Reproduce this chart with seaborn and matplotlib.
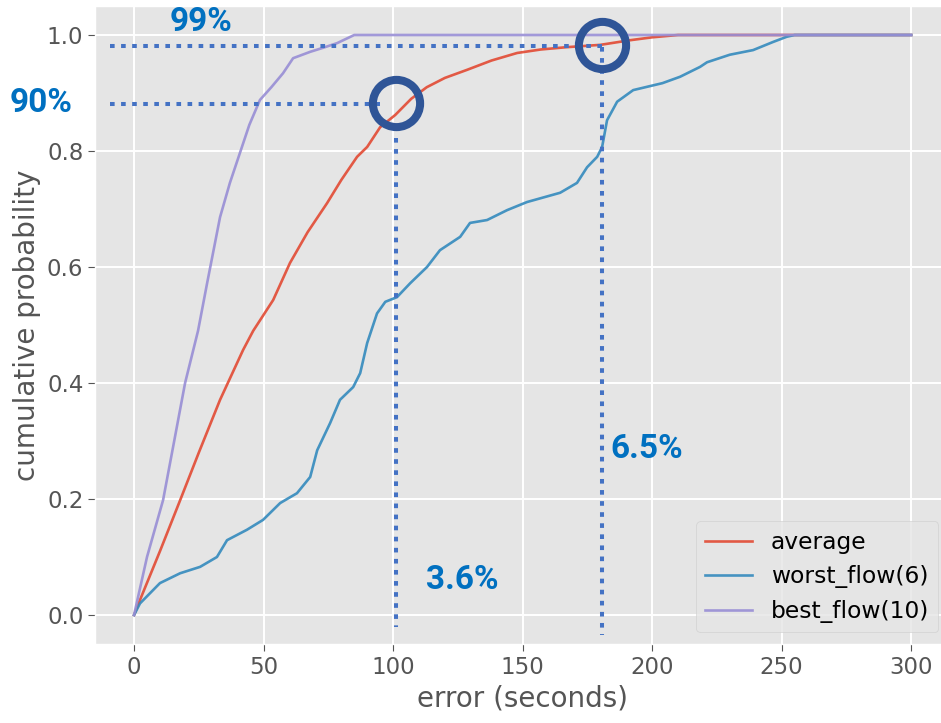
import matplotlib
matplotlib.use("Agg")
import matplotlib.pyplot as plt
import seaborn as sns
import pandas as pd

# CDF of estimation error per flow
avg_x = [0, 2.3, 10, 17.8, 25, 33.2, 42.1, 46, 53.7, 60.2, 67, 74.5, 80, 86.1, 90,
         95, 100.8, 107, 113, 120, 128.6, 138, 147.9, 157, 167, 180, 191.5, 200, 210, 300]
avg_y = [0, 0.026, 0.11, 0.198, 0.28, 0.371, 0.457, 0.49, 0.543, 0.607, 0.66, 0.71, 0.75,
         0.79, 0.807, 0.841, 0.862, 0.89, 0.91, 0.926, 0.94, 0.956, 0.969, 0.975, 0.979,
         0.983, 0.991, 0.996, 1.0, 1.0]

worst_x = [0, 2.3, 10, 17.8, 25.5, 32, 35.9, 43.6, 49.8, 56.4, 62.9, 68, 70.7, 75.7, 79.5,
           84.6, 87.3, 90, 93.8, 97, 101.5, 106.6, 113.1, 118.1, 125.9, 129.7, 136.3, 144,
           151.7, 164.5, 171, 174.9, 178.8, 180.7, 182.6, 186.5, 192.7, 204, 210.8, 218.5,
           221.2, 230, 239, 246.7, 252, 255, 300]
worst_y = [0, 0.02, 0.055, 0.072, 0.083, 0.1, 0.129, 0.147, 0.164, 0.193, 0.21, 0.238, 0.284,
           0.331, 0.371, 0.393, 0.417, 0.469, 0.52, 0.54, 0.548, 0.572, 0.6, 0.629, 0.652,
           0.676, 0.681, 0.698, 0.712, 0.728, 0.745, 0.772, 0.79, 0.807, 0.853, 0.885, 0.905,
           0.917, 0.928, 0.945, 0.953, 0.966, 0.974, 0.988, 0.997, 1.0, 1.0]

best_x = [0, 5, 11.2, 15.5, 19.7, 24.7, 28.2, 33.2, 37, 40.9, 44.5, 48.6, 53, 57.5, 61.4,
          68, 73, 78.4, 85, 300]
best_y = [0, 0.10, 0.198, 0.30, 0.40, 0.49, 0.572, 0.686, 0.745, 0.797, 0.845, 0.888, 0.91,
          0.934, 0.96, 0.971, 0.978, 0.986, 1.0, 1.0]

series_names = ["average", "worst_flow(6)", "best_flow(10)"]

# Highlighted points: (x, y) of the rings and their labels
ring_x = [101, 180.7]
ring_y = [0.883, 0.983]
pct_labels = ["99%", "90%", "3.6%", "6.5%"]

plt.style.use("ggplot")
plt.rcParams.update({
    "font.size": 16.8,
    "axes.labelsize": 20,
    "xtick.labelsize": 16.5,
    "ytick.labelsize": 16.5,
    "legend.fontsize": 16.8,
    "grid.linewidth": 1.4,
    "xtick.major.size": 5,
    "ytick.major.size": 5,
})

fig = plt.figure(figsize=(9.41, 7.23), dpi=100)
ax = fig.add_axes([95.2 / 941, 79 / 723, 854.8 / 941, 638 / 723])

colors = ["#E24A33", "#348ABD", "#988ED5"]
frames = [
    pd.DataFrame({"x": avg_x, "y": avg_y}),
    pd.DataFrame({"x": worst_x, "y": worst_y}),
    pd.DataFrame({"x": best_x, "y": best_y}),
]
for df, name, c in zip(frames, series_names, colors):
    sns.lineplot(data=df, x="x", y="y", ax=ax, color=c, lw=1.9, alpha=0.9, label=name,
                 estimator=None, sort=False)

ax.set_xlim(-15, 315)
ax.set_ylim(-0.05, 1.05)
ax.set_xticks([0, 50, 100, 150, 200, 250, 300])
ax.set_yticks([0.0, 0.2, 0.4, 0.6, 0.8, 1.0])
ax.set_xlabel("error (seconds)")
ax.set_ylabel("cumulative probability")

# Dotted guide lines
dot_kw = dict(color="#4472C4", lw=2.9, linestyle=(0, (1.15, 1.6)), clip_on=False, zorder=5)
ax.plot([-9.3, 180.5], [0.981, 0.981], **dot_kw)
ax.plot([-9.3, 95], [0.881, 0.881], **dot_kw)
ax.plot([101, 101], [0.822, -0.02], **dot_kw)
ax.plot([180.7, 180.7], [0.98, -0.035], **dot_kw)

# Rings around the highlighted points
ax.plot(ring_x, ring_y, linestyle="none", marker="o", markersize=34, mfc="none",
        mec="#2F5597", mew=5.8, zorder=6, clip_on=False)

txt_kw = dict(color="#0070C0", fontsize=24, fontweight="bold", ha="center", va="center",
              family=["DejaVu Sans Condensed", "Liberation Sans Narrow", "Roboto"],
              clip_on=False, zorder=7)
ax.text(25.9, 1.022, pct_labels[0], **txt_kw)
ax.text(-35.9, 0.883, pct_labels[1], **txt_kw)
ax.text(126.6, 0.060, pct_labels[2], **txt_kw)
ax.text(198, 0.286, pct_labels[3], **txt_kw)

ax.legend(loc="lower right")

fig.savefig("out.png", dpi=100)
